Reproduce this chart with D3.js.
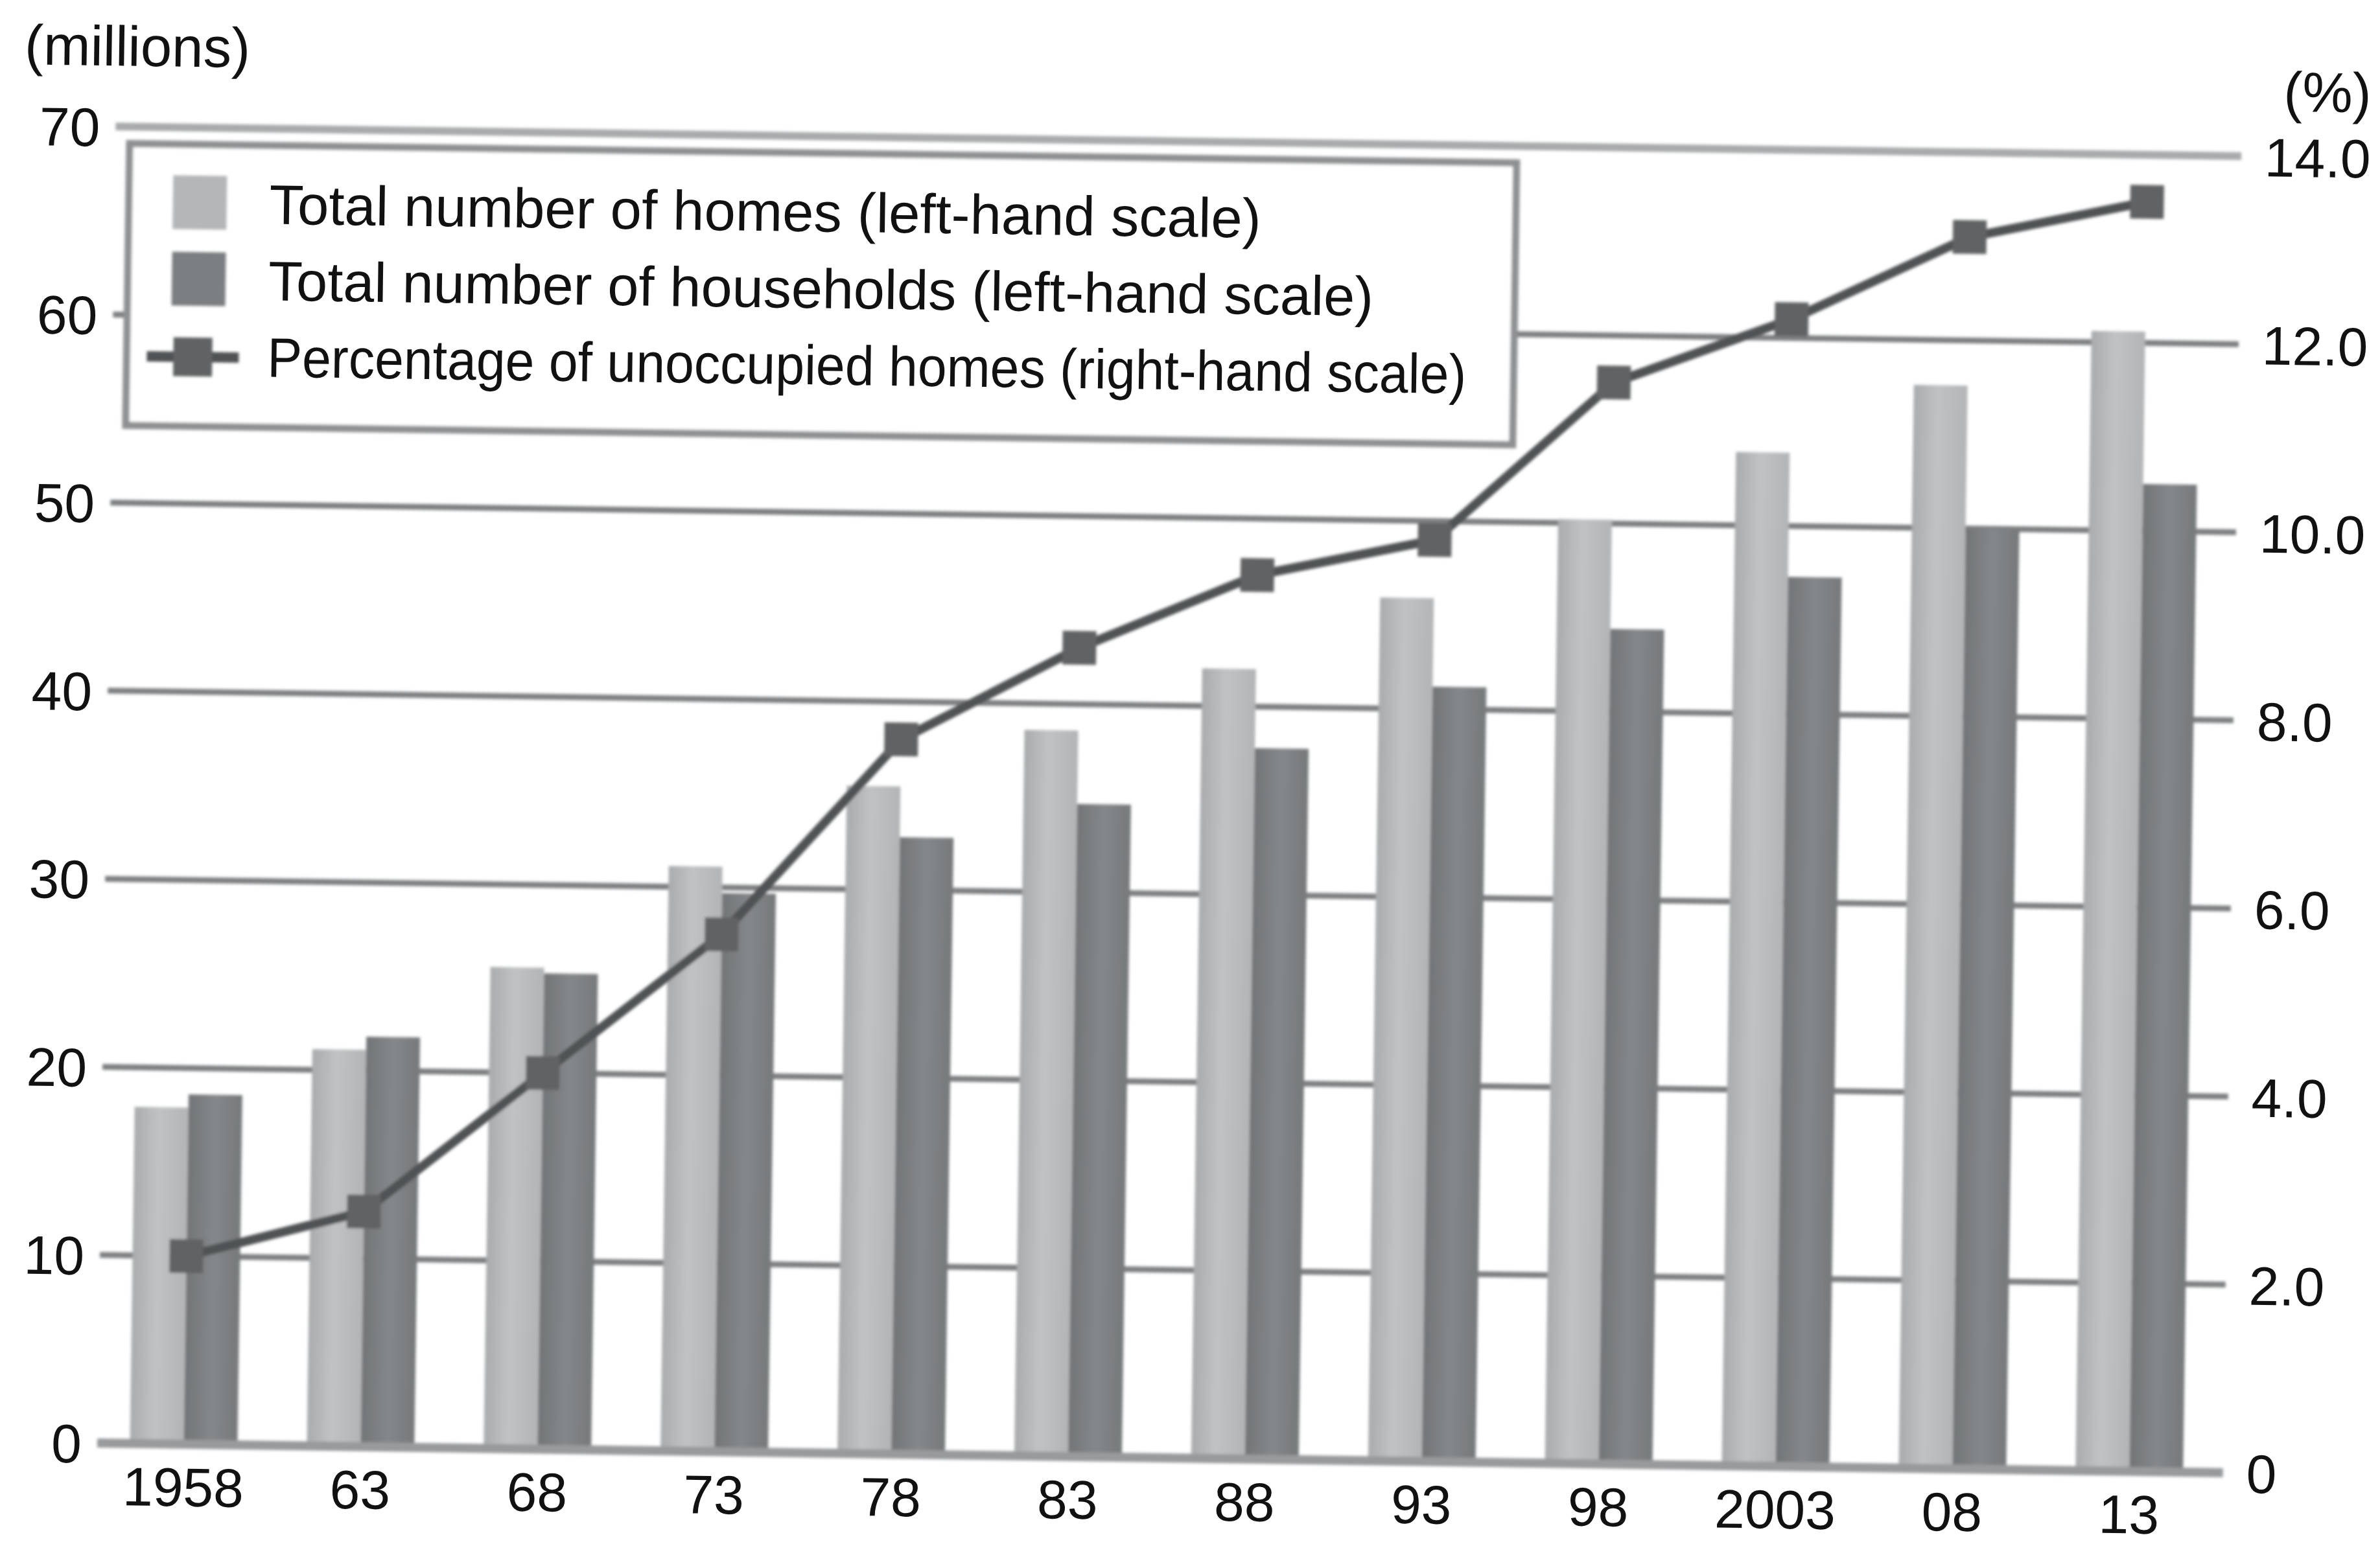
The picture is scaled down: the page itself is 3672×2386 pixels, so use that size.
<!DOCTYPE html>
<html>
<head>
<meta charset="utf-8">
<script src="https://cdn.jsdelivr.net/npm/d3@7/dist/d3.min.js"></script>
<style>
  html, body { margin: 0; padding: 0; background: #fff; }
  svg { display: block; }
  text { font-family: "Liberation Sans", Arial, Helvetica, sans-serif; fill: #111; }
</style>
</head>
<body>
<script>
// Survey years (x categories)
const years = ["1958", "63", "68", "73", "78", "83", "88", "93", "98", "2003", "08", "13"];
// Total number of homes, millions (left-hand scale)
const totalHomes = [17.9, 21.1, 25.6, 31.1, 35.5, 38.6, 42.0, 45.9, 50.2, 53.9, 57.6, 60.6];
// Total number of households, millions (left-hand scale)
const households = [18.6, 21.8, 25.3, 29.7, 32.8, 34.7, 37.8, 41.2, 44.4, 47.3, 50.0, 52.5];
// Percentage of unoccupied homes (right-hand scale)
const vacancyRate = [2.0, 2.5, 4.0, 5.5, 7.6, 8.6, 9.4, 9.8, 11.5, 12.2, 13.1, 13.5];
// Axis ticks
const leftTicks = [0, 10, 20, 30, 40, 50, 60, 70];
const rightTicks = [0, 2, 4, 6, 8, 10, 12, 14];
// Legend entries
const legendLabels = [
  "Total number of homes (left-hand scale)",
  "Total number of households (left-hand scale)",
  "Percentage of unoccupied homes (right-hand scale)"
];

const W = 3672, H = 2386;
const x0 = 150, x1 = 3430, yBase = 2227, yTop = 195;

const COL_LIGHT = "#b4b6b8";
const COL_DARK = "#7c7f81";
const COL_LINE = "#505254";
const COL_MARK = "#606264";
const COL_GRID = "#7e8082";

const svg = d3.select("body").append("svg")
  .attr("width", W).attr("height", H)
  .attr("viewBox", `0 0 ${W} ${H}`);

svg.append("rect").attr("width", W).attr("height", H).attr("fill", "#fff");

const defs = svg.append("defs");
defs.append("filter").attr("id", "soft")
  .attr("x", "-5%").attr("y", "-5%").attr("width", "110%").attr("height", "110%")
  .append("feGaussianBlur").attr("stdDeviation", 2.2);

const gLight = defs.append("linearGradient").attr("id", "lightBar")
  .attr("x1", "0").attr("x2", "1").attr("y1", "0").attr("y2", "0");
gLight.append("stop").attr("offset", "0%").attr("stop-color", "#a9abad");
gLight.append("stop").attr("offset", "45%").attr("stop-color", "#c0c2c4");
gLight.append("stop").attr("offset", "100%").attr("stop-color", "#b2b4b6");

const gDark = defs.append("linearGradient").attr("id", "darkBar")
  .attr("x1", "0").attr("x2", "1").attr("y1", "0").attr("y2", "0");
gDark.append("stop").attr("offset", "0%").attr("stop-color", "#727577");
gDark.append("stop").attr("offset", "50%").attr("stop-color", "#85888a");
gDark.append("stop").attr("offset", "100%").attr("stop-color", "#76797b");

// the whole printed figure sits at a slight clockwise tilt
const root = svg.append("g").attr("transform", `rotate(0.8, ${x0}, ${yBase})`);

const x = d3.scaleBand().domain(years).range([147, 3422])
  .paddingInner(0.392).paddingOuter(0.196);
const bw = x.bandwidth() / 2;
const yL = d3.scaleLinear().domain([0, 70]).range([yBase, yTop]);
const yR = d3.scaleLinear().domain([0, 14]).range([yBase, yTop]);

// gridlines
const marks = root.append("g").attr("filter", "url(#soft)");
marks.append("g").selectAll("line")
  .data(leftTicks.filter(d => d > 0))
  .join("line")
  .attr("x1", x0).attr("x2", x1)
  .attr("y1", d => yL(d)).attr("y2", d => yL(d))
  .attr("stroke", d => d === 70 ? "#a8aaac" : COL_GRID)
  .attr("stroke-width", d => d === 70 ? 12 : 9);

// bars
const barData = years.map((yr, i) => ({ yr, homes: totalHomes[i], hh: households[i], rate: vacancyRate[i] }));
marks.append("g").selectAll("rect")
  .data(barData).join("rect")
  .attr("x", d => x(d.yr)).attr("width", bw)
  .attr("y", d => yL(d.homes)).attr("height", d => yBase - yL(d.homes))
  .attr("fill", "url(#lightBar)");
marks.append("g").selectAll("rect")
  .data(barData).join("rect")
  .attr("x", d => x(d.yr) + bw).attr("width", bw)
  .attr("y", d => yL(d.hh)).attr("height", d => yBase - yL(d.hh))
  .attr("fill", "url(#darkBar)");

// baseline
marks.append("line")
  .attr("x1", x0).attr("x2", x1)
  .attr("y1", yL(0)).attr("y2", yL(0))
  .attr("stroke", "#989a9c").attr("stroke-width", 14);

// vacancy rate line with square markers
const line = d3.line()
  .x(d => x(d.yr) + x.bandwidth() / 2)
  .y(d => yR(d.rate));
marks.append("path").datum(barData)
  .attr("d", line).attr("fill", "none")
  .attr("stroke", COL_LINE).attr("stroke-width", 14)
  .attr("stroke-linejoin", "round");
const ms = 52;
marks.append("g").selectAll("rect")
  .data(barData).join("rect")
  .attr("x", d => x(d.yr) + x.bandwidth() / 2 - ms / 2)
  .attr("y", d => yR(d.rate) - ms / 2)
  .attr("width", ms).attr("height", ms)
  .attr("fill", COL_MARK);

// legend
const lg = root.append("g");
lg.append("rect")
  .attr("x", 172).attr("y", 221).attr("width", 2312 - 172).attr("height", 656 - 221)
  .attr("fill", "#fff").attr("stroke", "#8e9092").attr("stroke-width", 11)
  .attr("filter", "url(#soft)");
const lgSym = lg.append("g").attr("filter", "url(#soft)");
lgSym.append("rect").attr("x", 240).attr("y", 269).attr("width", 83).attr("height", 83)
  .attr("fill", COL_LIGHT);
lgSym.append("rect").attr("x", 240).attr("y", 387).attr("width", 83).attr("height", 83)
  .attr("fill", COL_DARK);
lgSym.append("line").attr("x1", 203).attr("x2", 345).attr("y1", 549).attr("y2", 549)
  .attr("stroke", COL_LINE).attr("stroke-width", 16);
lgSym.append("rect").attr("x", 274 - 30).attr("y", 549 - 30).attr("width", 60).attr("height", 60)
  .attr("fill", COL_MARK);
const legendWidths = [1530, 1705, 1850];
lg.selectAll("text.lg").data(legendLabels).join("text")
  .attr("class", "lg")
  .attr("x", 389).attr("y", (d, i) => 342 + i * 118)
  .attr("font-size", 86)
  .attr("textLength", (d, i) => legendWidths[i])
  .attr("lengthAdjust", "spacingAndGlyphs")
  .text(d => d);

// axes (labels only)
const axL = root.append("g").attr("transform", `translate(${x0},0)`)
  .call(d3.axisLeft(yL).tickValues(leftTicks).tickSize(0).tickPadding(24).tickFormat(d3.format("d")));
const axR = root.append("g").attr("transform", `translate(${x1},0)`)
  .call(d3.axisRight(yR).tickValues(rightTicks).tickSize(0).tickPadding(36)
    .tickFormat(d => d === 0 ? "0" : d3.format(".1f")(d)));
const axB = root.append("g").attr("transform", `translate(0,${yBase})`)
  .call(d3.axisBottom(x).tickSize(0).tickPadding(36));
[axL, axR, axB].forEach(a => {
  a.select(".domain").remove();
  a.selectAll("text").attr("font-size", 84).attr("fill", "#111")
    .attr("font-family", "'Liberation Sans', Arial, sans-serif");
});
axL.selectAll("text").attr("dy", "0.36em");
axR.selectAll("text").attr("dy", "0.36em");

// unit labels
root.append("text").attr("x", 8).attr("y", 101).attr("font-size", 87).text("(millions)");
root.append("text").attr("x", 3494).attr("y", 125).attr("font-size", 87).text("(%)");
</script>
</body>
</html>
